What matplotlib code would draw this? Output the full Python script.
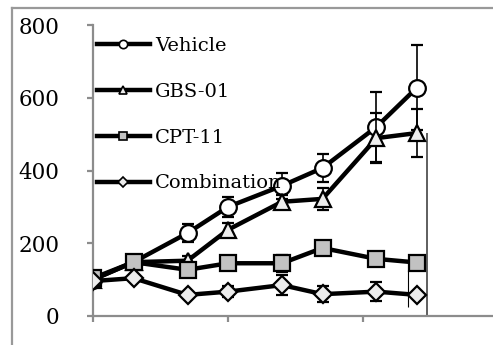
import numpy as np
import matplotlib.pyplot as plt
from matplotlib.lines import Line2D

# days after start of treatment
days = [0, 3, 7, 10, 14, 17, 21, 24]

vehicle = [100, 148, 228, 300, 358, 407, 520, 628]
vehicle_err = [8, 10, 25, 28, 35, 38, 96, 118]

gbs01 = [100, 148, 152, 237, 314, 322, 489, 503]
gbs01_err = [8, 10, 12, 20, 20, 30, 68, 65]

cpt11 = [104, 148, 127, 145, 145, 187, 157, 147]
cpt11_err = [8, 10, 12, 12, 24, 12, 12, 10]

combo = [96, 104, 58, 67, 85, 60, 67, 58]
combo_err = [6, 8, 8, 15, 28, 22, 26, 8]

labels = ["Vehicle", "GBS-01", "CPT-11", "Combination"]
y_ticks = [0, 200, 400, 600, 800]
x_ticks = [0, 10, 20, 30]

# stray thin lines visible in the original picture (x, y0, y1)
stray_x = [24.75, 23.3]
stray_y0 = [0, 25]
stray_y1 = [503, 126]

W, H = 493, 345
fig = plt.figure(figsize=(W / 100, H / 100), dpi=100)
ax = fig.add_axes([93 / W, 1 - 316 / H, 405 / W, (316 - 25) / H])

styles = [
    dict(marker="o", mfc="white", ms=12),
    dict(marker="^", mfc="#ededed", ms=12),
    dict(marker="s", mfc="#c2c2c2", ms=11),
    dict(marker="D", mfc="#ececec", ms=9),
]
series = [(vehicle, vehicle_err), (gbs01, gbs01_err), (cpt11, cpt11_err), (combo, combo_err)]

for i, ((vals, err), st) in enumerate(zip(series, styles)):
    ax.errorbar(days, vals, yerr=err, color="black", lw=3.2, mec="black", mew=1.6,
                ecolor="black", elinewidth=1.2, capsize=4.5, capthick=1.6,
                zorder=3 + i, **st)

ax.vlines(stray_x[0], stray_y0[0], stray_y1[0], color="#333333", lw=1.1, zorder=2)
ax.vlines(stray_x[1], stray_y0[1], stray_y1[1], color="black", lw=0.8, zorder=2)

ax.set_xlim(0, 30)
ax.set_ylim(0, 800)
ax.set_xticks(x_ticks)
ax.set_xticklabels([])
ax.set_yticks(y_ticks)
ax.set_yticklabels([str(v) for v in y_ticks], family="DejaVu Serif", fontsize=15.5)

for s in ["top", "right"]:
    ax.spines[s].set_visible(False)
for s in ["left", "bottom"]:
    ax.spines[s].set_color("#8c8c8c")
    ax.spines[s].set_linewidth(1.6)
ax.tick_params(direction="out", length=4, width=1.6, color="#8c8c8c")
ax.yaxis.set_tick_params(pad=20)
ax.patch.set_alpha(0)

handles = []
for st in styles:
    handles.append(Line2D([], [], color="black", lw=3.2, marker=st["marker"],
                          mfc=st["mfc"], mec="black", mew=1.2,
                          ms=6 if st["marker"] != "D" else 5))
fig.legend(handles, labels, loc="upper left", bbox_to_anchor=(97 / W, 1 - 37 / H),
           frameon=False, borderpad=0, borderaxespad=0, handlelength=2.7,
           handletextpad=0.3, labelspacing=1.43,
           prop=dict(family="DejaVu Serif", size=14))

# grey frame of the original figure (only top and left edges are in view)
fx, fy = 12 / W, 1 - 8 / H
fig.add_artist(Line2D([fx, 1.5], [fy, fy], transform=fig.transFigure,
                      color="#999999", lw=1.6))
fig.add_artist(Line2D([fx, fx], [fy, -0.5], transform=fig.transFigure,
                      color="#999999", lw=1.6))

fig.savefig("out.png", dpi=100)
